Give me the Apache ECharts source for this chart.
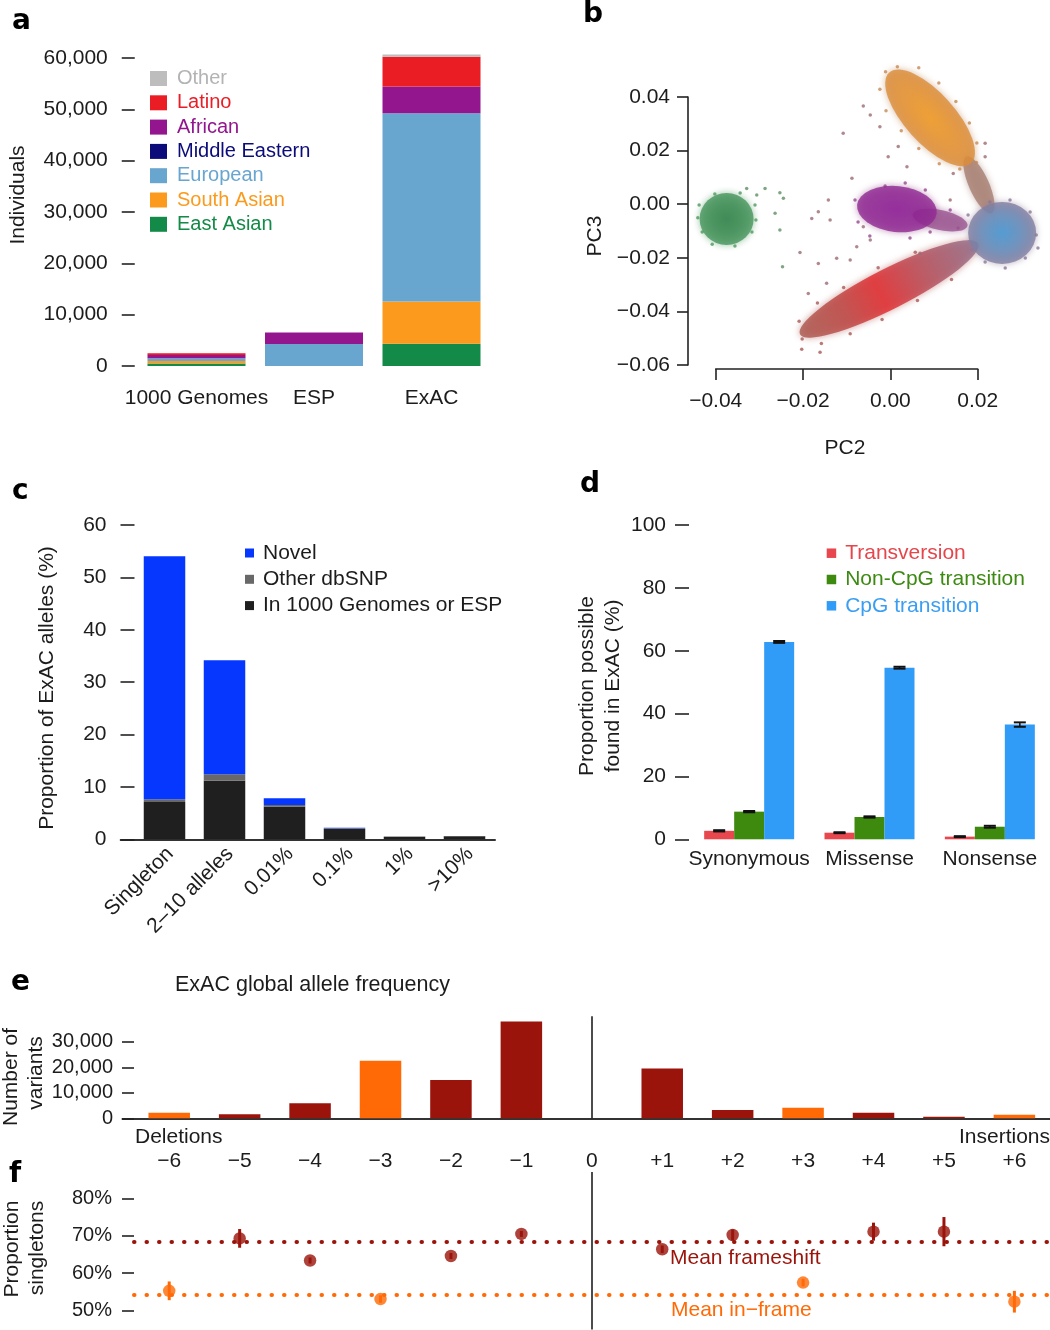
<!DOCTYPE html>
<html><head><meta charset="utf-8">
<script src="https://cdn.jsdelivr.net/npm/echarts@6/dist/echarts.min.js"></script>
<style>html,body{margin:0;padding:0;background:#fff}#c{width:1050px;height:1330px}</style>
</head><body><div id="c"></div>
<script>
// ---------- Panel a: individuals per cohort ----------
const cohorts = ['1000 Genomes', 'ESP', 'ExAC'];
const popEastAsian = [504, 0, 4327];
const popSouthAsian = [489, 0, 8256];
const popEuropean = [503, 4300, 36677];
const popMiddleEastern = [0, 0, 0];
const popAfrican = [661, 2250, 5203];
const popLatino = [347, 0, 5789];
const popOther = [0, 0, 454];

// ---------- Panel b: PCA cluster centres and individual samples (PC2, PC3) ----------
const pcEastAsian = [[-0.0375, -0.0055]];
const pcSouthAsian = [[0.0091, 0.0322]];
const pcAfrican = [[0.0015, -0.0018]];
const pcAfricanTail = [[0.0114, -0.0059]];
const pcEuropean = [[0.0256, -0.0107]];
const pcLatino = [[-0.0003, -0.0316]];
const pcBridge = [[0.0203, 0.0072]];
const pcEdgeEastAsian = [[-0.0438, -0.0003], [-0.0431, -0.0104], [-0.0408, -0.0149], [-0.0356, -0.0156],
  [-0.0317, -0.0104], [-0.0310, -0.0003], [-0.0344, 0.0042], [-0.0402, 0.0038], [-0.0441, -0.0051], [-0.0308, -0.0059]];
const pcEdgeSouthAsian = [[0.0016, 0.0513], [-0.0024, 0.0429], [0.0065, 0.0509], [-0.0010, 0.0349], [0.0111, 0.0452],
  [0.0025, 0.0274], [0.0150, 0.0383], [0.0065, 0.0208], [0.0181, 0.0303], [0.0112, 0.0151], [0.0198, 0.0228],
  [0.0159, 0.0131], [0.0197, 0.0156], [-0.0011, 0.0494]];
const pcEdgeAfrican = [[-0.0081, 0.0016], [-0.0074, -0.0066], [-0.0047, -0.0119], [-0.0012, 0.0068], [0.0034, 0.0079],
  [0.0080, 0.0053], [0.0091, -0.0104], [0.0045, -0.0126], [0.0137, -0.0022], [0.0155, -0.0089]];
const pcEdgeEuropean = [[0.0178, -0.0040], [0.0187, -0.0171], [0.0217, -0.0216], [0.0263, -0.0238], [0.0309, -0.0201],
  [0.0334, -0.0115], [0.0320, -0.0029], [0.0274, 0.0016], [0.0228, 0.0008], [0.0338, -0.0163]];
const pcEdgeLatino = [[-0.0202, -0.0503], [-0.0209, -0.0437], [-0.0158, -0.0520], [-0.0167, -0.0369], [-0.0092, -0.0483],
  [-0.0107, -0.0311], [-0.0019, -0.0430], [-0.0028, -0.0237], [0.0062, -0.0359], [0.0057, -0.0179], [0.0140, -0.0281],
  [-0.0203, -0.0541], [-0.0161, -0.0552]];
const pcStrayEastAsian = [[-0.0329, 0.0059], [-0.0306, 0.0034], [-0.0287, 0.0059], [-0.0253, 0.0043],
  [-0.0245, 0.0022], [-0.0264, -0.0034], [-0.0253, -0.0096], [-0.0247, -0.0233]];
const pcStrayAdmixed = [[-0.0108, 0.0265], [-0.0062, 0.0366], [-0.0046, 0.0333], [-0.0024, 0.0289],
  [0.0018, 0.0215], [-0.0005, 0.0177], [0.0038, 0.0140], [-0.0088, 0.0097], [-0.0142, 0.0016],
  [-0.0165, -0.0028], [-0.0180, -0.0053], [-0.0207, -0.0180], [-0.0138, -0.0059], [-0.0188, -0.0333],
  [-0.0165, -0.0221], [-0.0123, -0.0202], [-0.0146, -0.0295], [-0.0092, -0.0208], [0.0217, 0.0227],
  [0.0217, 0.0177], [0.0144, 0.0115], [0.0137, 0.0016], [-0.0062, -0.0084], [-0.0046, -0.0134],
  [-0.0077, -0.0159], [0.0068, -0.0183]];

// ---------- Panel c: allele-frequency bins ----------
const afBins = ['Singleton', '2–10 alleles', '0.01%', '0.1%', '1%', '>10%'];
const afIn1000GorESP = [7.1, 11.2, 6.2, 1.95, 0.5, 0.6];
const afOtherDbsnp = [0.55, 1.2, 0.35, 0.15, 0.05, 0.05];
const afNovel = [46.4, 21.8, 1.3, 0.1, 0, 0];

// ---------- Panel d: proportion of possible variants found ----------
const consequences = ['Synonymous', 'Missense', 'Nonsense'];
const pctTransversion = [2.7, 2.1, 0.85];
const errTransversion = [0.2, 0.15, 0.15];
const pctNonCpG = [8.8, 7.1, 4.0];
const errNonCpG = [0.2, 0.2, 0.3];
const pctCpG = [62.8, 54.6, 36.5];
const errCpG = [0.3, 0.3, 0.7];

// ---------- Panels e/f: indels ----------
const indelSizes = ['−6', '−5', '−4', '−3', '−2', '−1', '0', '+1', '+2', '+3', '+4', '+5', '+6'];
const indelLength = [-6, -5, -4, -3, -2, -1, 0, 1, 2, 3, 4, 5, 6];
const indelCounts = [2200, 1600, 5900, 22500, 15000, 37900, null, 19500, 3250, 4150, 2200, 650, 1400];
const singletonPct = [55.3, 69.3, 63.4, 53.1, 64.6, 70.5, null, 66.4, 70.2, 57.5, 71.1, 71.1, 52.4];
const singletonErr = [2.5, 2.5, 0.8, 1.0, 0.8, 0.8, null, 1.0, 1.5, 1.0, 2.4, 3.9, 2.9];
const meanFrameshift = 68.3;
const meanInFrame = 54.3;
const countTicks = [0, 10000, 20000, 30000];
const pctTicks = [50, 60, 70, 80];

// ---------- styling ----------
const FF = '"Liberation Sans", Arial, Helvetica, sans-serif';
const TXT = '#1c1c1c';
const DARKRED = '#9a140b';
const ORANGE = '#ff6a06';
const tickStyle = { color: '#222', width: 1.6 };
const comma = v => Math.round(v).toLocaleString('en-US');
const fmtPC = v => Math.abs(v) < 1e-9 ? '0.00' : (v < 0 ? '−' : '') + Math.abs(v).toFixed(2);
const lbl = (o) => Object.assign({ fontSize: 21, color: TXT, fontFamily: FF }, o);

const chart = echarts.init(document.getElementById('c'), null, { renderer: 'canvas', width: 1050, height: 1330 });

function barS(name, data, color, xi, extra) {
  return Object.assign({ type: 'bar', name, data, xAxisIndex: xi, yAxisIndex: xi,
    itemStyle: { color }, clip: false, silent: true, animation: false }, extra || {});
}
function blob(data, size, rot, color, glow, z) {
  return { type: 'scatter', xAxisIndex: 1, yAxisIndex: 1, data, symbol: 'circle', symbolSize: size,
    symbolRotate: rot, clip: false, silent: true, z, animation: false,
    itemStyle: { color, shadowBlur: glow ? 7 : 0, shadowColor: glow || 'transparent' } };
}
function specks(data, color, z) {
  return { type: 'scatter', xAxisIndex: 1, yAxisIndex: 1, data, symbolSize: 3.5, clip: false, silent: true,
    animation: false, itemStyle: { color }, z };
}
function radial(stops, r) { return { type: 'radial', x: 0.5, y: 0.5, r: r, colorStops: stops.map((c, i) => ({ offset: i / (stops.length - 1), color: c })) }; }

function errD(vals, errs, off, ai) {
  return { type: 'custom', xAxisIndex: ai, yAxisIndex: ai, silent: true, z: 5, animation: false,
    data: vals.map((v, i) => [i, v, errs[i]]), encode: { x: 0, y: 1 },
    renderItem: (p, api) => {
      const i = api.value(0), v = api.value(1), e = api.value(2);
      const a = api.coord([i, v + e]), b = api.coord([i, v - e]);
      const x = a[0] + off, w = 6;
      return { type: 'group', children: [
        { type: 'line', shape: { x1: x, y1: a[1], x2: x, y2: b[1] }, style: { stroke: '#111', lineWidth: 1.5 } },
        { type: 'line', shape: { x1: x - w, y1: a[1], x2: x + w, y2: a[1] }, style: { stroke: '#111', lineWidth: 2 } },
        { type: 'line', shape: { x1: x - w, y1: b[1], x2: x + w, y2: b[1] }, style: { stroke: '#111', lineWidth: 2 } }
      ] };
    } };
}
const inFrame = i => indelLength[i] !== 0 && indelLength[i] % 3 === 0;
const fPoints = pick => singletonPct.map((v, i) => [i, v, singletonErr[i]]).filter(d => d[1] != null && pick(d[0]));
function errF(data, color) {
  return { type: 'custom', xAxisIndex: 7, yAxisIndex: 7, silent: true, z: 6, animation: false,
    data, encode: { x: 0, y: 1 },
    renderItem: (p, api) => {
      const i = api.value(0), v = api.value(1), e = api.value(2);
      const a = api.coord([i, v + e]), b = api.coord([i, v - e]);
      return { type: 'line', shape: { x1: a[0], y1: a[1], x2: b[0], y2: b[1] }, style: { stroke: color, lineWidth: 3 } };
    } };
}

function T(text, x, y, o) {
  o = o || {};
  return { type: 'text', x, y, rotation: o.rot ? Math.PI / 2 : 0, silent: true, z: 100,
    style: { text, fill: o.color || TXT, fontSize: o.size || 21, fontWeight: o.weight || 'normal', fontFamily: o.family || FF,
      align: o.align || (o.rot ? 'center' : 'left'), verticalAlign: 'middle' } };
}
const panelLetter = (t, x, y) => T(t, x, y, { size: 28, weight: 'bold', color: '#000', family: '"DejaVu Sans", "Liberation Sans", Arial, sans-serif' });

const hidden = { show: false };
const option = {
  animation: false,
  backgroundColor: '#ffffff',
  textStyle: { fontFamily: FF },
  grid: [
    { left: 137.75, top: 58, width: 352.5, height: 308 },      // a
    { left: 715.7, top: 97, width: 262, height: 268 },         // b
    { left: 134.5, top: 525, width: 360, height: 314.3 },      // c
    { left: 120.7, top: 525, width: 374.3, height: 314.3 },    // c axis line
    { left: 689, top: 525, width: 362, height: 314.3 },        // d
    { left: 134, top: 1016.2, width: 915.6, height: 102.1 },   // e
    { left: 122.5, top: 1016.2, width: 927.5, height: 102.1 }, // e axis line
    { left: 134, top: 1172.1, width: 915.6, height: 157.3 }    // f
  ],
  xAxis: [
    { gridIndex: 0, type: 'category', data: cohorts, axisLine: hidden, axisTick: hidden, axisLabel: lbl({ margin: 22, interval: 0 }) },
    { gridIndex: 1, type: 'value', min: -0.04, max: 0.02, interval: 0.02, offset: 4,
      axisLine: { show: true, onZero: false, lineStyle: tickStyle }, axisTick: { show: true, length: 11, lineStyle: tickStyle },
      axisLabel: lbl({ margin: 22, formatter: fmtPC }), splitLine: hidden },
    { gridIndex: 2, type: 'category', data: afBins, axisLine: hidden, axisTick: hidden,
      axisLabel: lbl({ rotate: 45, margin: 17, interval: 0, padding: [0, -8, 0, 0] }) },
    { gridIndex: 3, type: 'value', min: 0, max: 1, axisLine: { show: true, onZero: false, lineStyle: { color: '#333', width: 2 } },
      axisTick: hidden, axisLabel: hidden, splitLine: hidden },
    { gridIndex: 4, type: 'category', data: consequences, axisLine: hidden, axisTick: hidden, axisLabel: lbl({ margin: 9, interval: 0 }) },
    { gridIndex: 5, type: 'category', data: indelSizes, axisLine: hidden, axisTick: hidden, axisLabel: lbl({ margin: 32, interval: 0 }) },
    { gridIndex: 6, type: 'value', min: 0, max: 1, axisLine: { show: true, onZero: false, lineStyle: { color: '#333', width: 2 } },
      axisTick: hidden, axisLabel: hidden, splitLine: hidden },
    { gridIndex: 7, type: 'category', data: indelSizes, show: false }
  ],
  yAxis: [
    { gridIndex: 0, type: 'value', min: 0, max: 60000, interval: 10000, offset: 3, axisLine: hidden,
      axisTick: { show: true, length: 13, lineStyle: tickStyle }, axisLabel: lbl({ margin: 27, formatter: comma }), splitLine: hidden },
    { gridIndex: 1, type: 'value', min: -0.06, max: 0.04, interval: 0.02, offset: 27.7,
      axisLine: { show: true, onZero: false, lineStyle: tickStyle }, axisTick: { show: true, length: 11, lineStyle: tickStyle },
      axisLabel: lbl({ margin: 18, formatter: fmtPC }), splitLine: hidden },
    { gridIndex: 2, type: 'value', min: 0, max: 60, interval: 10, axisLine: hidden,
      axisTick: { show: true, length: 14, lineStyle: tickStyle }, axisLabel: lbl({ margin: 28 }), splitLine: hidden },
    { gridIndex: 3, type: 'value', show: false },
    { gridIndex: 4, type: 'value', min: 0, max: 100, interval: 20, axisLine: hidden,
      axisTick: { show: true, length: 14, lineStyle: tickStyle }, axisLabel: lbl({ margin: 23 }), splitLine: hidden },
    { gridIndex: 5, type: 'value', min: 0, max: 40000, axisLine: hidden,
      axisTick: { show: true, length: 12, lineStyle: tickStyle, customValues: countTicks },
      axisLabel: lbl({ margin: 21, fontSize: 20, formatter: comma, customValues: countTicks }), splitLine: hidden },
    { gridIndex: 6, type: 'value', show: false },
    { gridIndex: 7, type: 'value', min: 45, max: 87, axisLine: hidden,
      axisTick: { show: true, length: 12, lineStyle: tickStyle, customValues: pctTicks },
      axisLabel: lbl({ margin: 22, fontSize: 20, formatter: v => v + '%', customValues: pctTicks }), splitLine: hidden }
  ],
  legend: [
    { left: 150, top: 68.5, padding: 0, orient: 'vertical', icon: 'rect', itemWidth: 17, itemHeight: 15, itemGap: 4.3, selectedMode: false,
      textStyle: { fontSize: 20, lineHeight: 20, fontFamily: FF, padding: [0, 0, 0, 5] },
      data: [
        { name: 'Other', textStyle: { color: '#b3b3b3' } },
        { name: 'Latino', textStyle: { color: '#ea1d25' } },
        { name: 'African', textStyle: { color: '#93168f' } },
        { name: 'Middle Eastern', textStyle: { color: '#0b0b7a' } },
        { name: 'European', textStyle: { color: '#68a6d0' } },
        { name: 'South Asian', textStyle: { color: '#fb9a1c' } },
        { name: 'East Asian', textStyle: { color: '#138a47' } }
      ] },
    { left: 245, top: 542.5, padding: 0, orient: 'vertical', icon: 'rect', itemWidth: 9, itemHeight: 9, itemGap: 5.3, selectedMode: false,
      textStyle: { fontSize: 21, lineHeight: 21, color: TXT, fontFamily: FF, padding: [0, 0, 0, 4] },
      data: ['Novel', 'Other dbSNP', 'In 1000 Genomes or ESP'] },
    { left: 826.7, top: 542.7, padding: 0, orient: 'vertical', icon: 'rect', itemWidth: 9.5, itemHeight: 9.5, itemGap: 5.3, selectedMode: false,
      textStyle: { fontSize: 21, lineHeight: 21, fontFamily: FF, padding: [0, 0, 0, 4] },
      data: [
        { name: 'Transversion', textStyle: { color: '#e5464c' } },
        { name: 'Non-CpG transition', textStyle: { color: '#3d8a12' } },
        { name: 'CpG transition', textStyle: { color: '#3a9ef2' } }
      ] }
  ],
  series: [
    // a
    barS('East Asian', popEastAsian, '#138a47', 0, { stack: 'pop', barWidth: 98 }),
    barS('South Asian', popSouthAsian, '#fb9a1c', 0, { stack: 'pop', barWidth: 98 }),
    barS('European', popEuropean, '#68a6d0', 0, { stack: 'pop', barWidth: 98 }),
    barS('Middle Eastern', popMiddleEastern, '#0b0b7a', 0, { stack: 'pop', barWidth: 98 }),
    barS('African', popAfrican, '#93168f', 0, { stack: 'pop', barWidth: 98 }),
    barS('Latino', popLatino, '#ea1d25', 0, { stack: 'pop', barWidth: 98 }),
    barS('Other', popOther, '#bdbdbd', 0, { stack: 'pop', barWidth: 98 }),
    // b
    specks(pcEdgeLatino, '#a85a56', 1),
    blob(pcLatino, [200, 40], 27, { type: 'linear', x: 0, y: 0, x2: 1, y2: 0, colorStops: [
      { offset: 0, color: '#a95a50' }, { offset: 0.25, color: '#bd4340' }, { offset: 0.45, color: '#e3262a' },
      { offset: 0.7, color: '#b44d5a' }, { offset: 1, color: '#8e6f8e' }] }, 'rgba(175,85,80,0.7)', 2),
    specks(pcEdgeAfrican, '#94488f', 2),
    blob(pcAfricanTail, [56, 20], -12, '#9a5590', 'rgba(150,80,140,0.7)', 2),
    blob(pcAfrican, [80, 46], -6, radial(['#8a1594', '#8f2792', '#9a4c8e'], 0.9), 'rgba(150,70,140,0.7)', 3),
    blob(pcBridge, [62, 20], -66, '#a67e72', 'rgba(165,125,110,0.7)', 2),
    specks(pcEdgeSouthAsian, '#c58a55', 2),
    blob(pcSouthAsian, [122, 50], -48, radial(['#f39a1c', '#e39032', '#cc874a', '#bb825a'], 1.1), 'rgba(190,130,80,0.7)', 3),
    specks(pcEdgeEuropean, '#8a7898', 2),
    blob(pcEuropean, [68, 62], 0, radial(['#3a96d6', '#5d8cbc', '#8a7b9a'], 0.55), 'rgba(140,120,150,0.7)', 3),
    specks(pcEdgeEastAsian, '#4f9a5f', 2),
    blob(pcEastAsian, [54, 52], 0, radial(['#2a7d44', '#3a8a52', '#4e9a62'], 0.55), 'rgba(70,150,90,0.7)', 3),
    specks(pcStrayEastAsian, '#5e9064', 4),
    specks(pcStrayAdmixed, '#9c6a70', 4),
    // c
    barS('In 1000 Genomes or ESP', afIn1000GorESP, '#1f1f1f', 2, { stack: 'af', barWidth: 41.5 }),
    barS('Other dbSNP', afOtherDbsnp, '#686868', 2, { stack: 'af', barWidth: 41.5 }),
    barS('Novel', afNovel, '#0537ff', 2, { stack: 'af', barWidth: 41.5 }),
    // d
    barS('Transversion', pctTransversion, '#e8474e', 4, { barWidth: 30, barGap: '0%' }),
    barS('Non-CpG transition', pctNonCpG, '#3e8a0f', 4, { barWidth: 30, barGap: '0%' }),
    barS('CpG transition', pctCpG, '#309cf7', 4, { barWidth: 30, barGap: '0%' }),
    errD(pctTransversion, errTransversion, -30, 4),
    errD(pctNonCpG, errNonCpG, 0, 4),
    errD(pctCpG, errCpG, 30, 4),
    // e
    { type: 'bar', xAxisIndex: 5, yAxisIndex: 5, barWidth: 41.5, silent: true, clip: false,
      data: indelCounts.map((v, i) => v == null ? null : { value: v, itemStyle: { color: inFrame(i) ? ORANGE : DARKRED } }),
      markLine: { silent: true, symbol: ['none', 'none'], label: hidden, lineStyle: { color: '#111', width: 1.5, type: 'solid' },
        data: [{ xAxis: 6 }] } },
    // f
    errF(fPoints(i => !inFrame(i)), DARKRED),
    errF(fPoints(i => inFrame(i)), ORANGE),
    { type: 'scatter', xAxisIndex: 7, yAxisIndex: 7, symbolSize: 12.5, silent: true, z: 7,
      data: fPoints(i => !inFrame(i)).map(d => [d[0], d[1]]), itemStyle: { color: DARKRED },
      markLine: { silent: true, symbol: ['none', 'none'], label: hidden,
        data: [
          { yAxis: meanFrameshift, lineStyle: { color: DARKRED, width: 4, type: [0.5, 12], cap: 'round' } },
          { xAxis: 6, lineStyle: { color: '#111', width: 1.5, type: 'solid' } }
        ] } },
    { type: 'scatter', xAxisIndex: 7, yAxisIndex: 7, symbolSize: 12.5, silent: true, z: 7,
      data: fPoints(i => inFrame(i)).map(d => [d[0], d[1]]), itemStyle: { color: ORANGE },
      markLine: { silent: true, symbol: ['none', 'none'], label: hidden,
        data: [{ yAxis: meanInFrame, lineStyle: { color: ORANGE, width: 4, type: [0.5, 12], cap: 'round' } }] } }
  ],
  graphic: [
    panelLetter('a', 12, 21.5),
    panelLetter('b', 583, 15),
    panelLetter('c', 12, 492),
    panelLetter('d', 580, 485),
    panelLetter('e', 11, 983),
    panelLetter('f', 9, 1175),
    T('Individuals', 18, 195, { rot: true }),
    T('PC3', 595, 236, { rot: true }),
    T('PC2', 845, 448, { align: 'center' }),
    T('Proportion of ExAC alleles (%)', 47, 688, { rot: true }),
    T('Proportion possible', 587, 686, { rot: true }),
    T('found in ExAC (%)', 613, 686, { rot: true }),
    T('ExAC global allele frequency', 175, 985, { size: 21.5 }),
    T('Number of', 11, 1077, { rot: true }),
    T('variants', 36, 1073, { rot: true }),
    T('Deletions', 135, 1137),
    T('Insertions', 1050, 1137, { align: 'right' }),
    T('Proportion', 12, 1249, { rot: true }),
    T('singletons', 37, 1248, { rot: true }),
    T('Mean frameshift', 670, 1258, { color: DARKRED }),
    T('Mean in−frame', 671, 1310, { color: ORANGE })
  ]
};
chart.setOption(option);
</script></body></html>
